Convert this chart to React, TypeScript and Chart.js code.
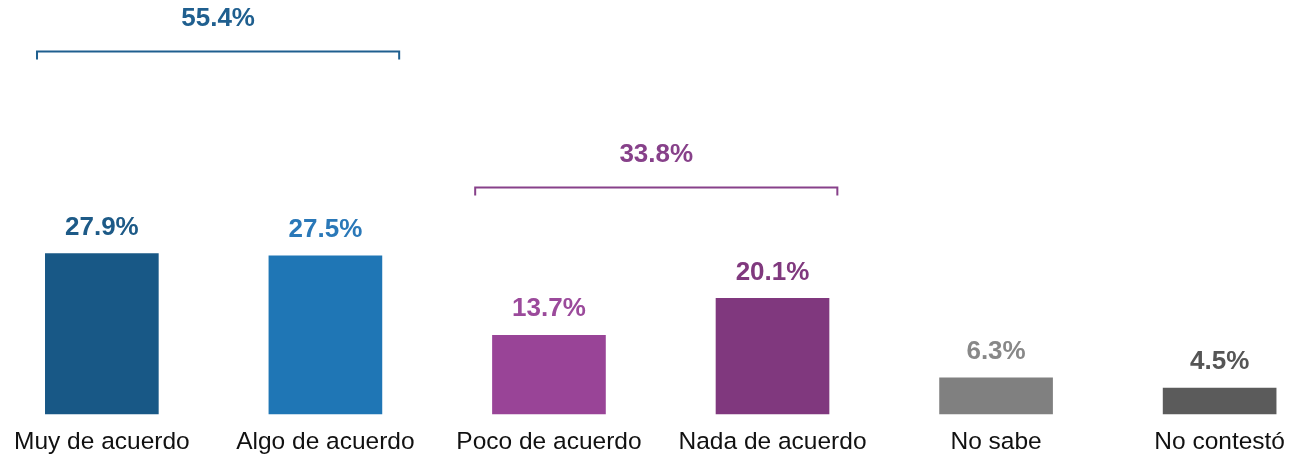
import React, { useEffect, useRef } from "react";
import { Chart, registerables } from "chart.js";

Chart.register(...registerables);

const categories = [
  "Muy de acuerdo",
  "Algo de acuerdo",
  "Poco de acuerdo",
  "Nada de acuerdo",
  "No sabe",
  "No contestó",
];
const values = [27.9, 27.5, 13.7, 20.1, 6.3, 4.5];
const barColors = ["#185886", "#1f76b5", "#994497", "#80387e", "#808080", "#5b5b5b"];
const labelColors = ["#1d5a87", "#2a78b8", "#9b4a9b", "#80397e", "#888888", "#555555"];

const groupLabels = ["55.4%", "33.8%"];
const groupFrom = [-0.29, 1.67];
const groupTo = [1.33, 3.29];
const groupLevel = [63.1, 39.5];
const groupColors = ["#1f5f8f", "#87418a"];

const FONT = "'Liberation Sans', Arial, sans-serif";

const annotate = {
  id: "annotate",
  afterDraw(chart: any) {
    const ctx = chart.ctx;
    const xs = chart.scales.x;
    const ys = chart.scales.y;
    const meta = chart.getDatasetMeta(0);
    ctx.save();
    ctx.font = `bold 26px ${FONT}`;
    ctx.textAlign = "center";
    ctx.textBaseline = "middle";
    meta.data.forEach((el: any, i: number) => {
      ctx.fillStyle = labelColors[i];
      ctx.fillText(values[i].toFixed(1) + "%", el.x, el.y - 26);
    });
    groupLabels.forEach((lab, i) => {
      const x1 = xs.getPixelForValue(groupFrom[i]);
      const x2 = xs.getPixelForValue(groupTo[i]);
      const y = Math.round(ys.getPixelForValue(groupLevel[i])) + 0.5;
      ctx.strokeStyle = groupColors[i];
      ctx.lineWidth = 2;
      ctx.beginPath();
      ctx.moveTo(x1, y + 8);
      ctx.lineTo(x1, y);
      ctx.lineTo(x2, y);
      ctx.lineTo(x2, y + 8);
      ctx.stroke();
      ctx.fillStyle = groupColors[i];
      ctx.fillText(lab, (x1 + x2) / 2, y - 33);
    });
    ctx.restore();
  },
};

export default function App() {
  const ref = useRef<HTMLCanvasElement | null>(null);
  useEffect(() => {
    if (!ref.current) return;
    const chart = new Chart(ref.current, {
      type: "bar",
      data: {
        labels: categories,
        datasets: [
          {
            data: values,
            backgroundColor: barColors,
            barThickness: 113,
            clip: false as any,
          },
        ],
      },
      options: {
        responsive: false,
        animation: false,
        devicePixelRatio: 1,
        layout: { padding: { left: 98.5, right: 78, top: 0, bottom: 0 } },
        plugins: { legend: { display: false }, tooltip: { enabled: false } },
        scales: {
          x: {
            type: "category",
            offset: false,
            grid: { display: false, drawTicks: false },
            border: { display: false },
            afterFit: (scale: any) => {
              scale.height = 43;
            },
            ticks: {
              autoSkip: false,
              maxRotation: 0,
              padding: 14,
              color: "#111111",
              font: { size: 24.5, family: FONT },
            },
          },
          y: { display: false, min: 0, max: 72 },
        },
      },
      plugins: [annotate],
    });
    return () => chart.destroy();
  }, []);
  return (
    <div style={{ position: "absolute", left: 0, top: 0, width: 1299, height: 457 }}>
      <canvas ref={ref} width={1299} height={457} />
    </div>
  );
}
